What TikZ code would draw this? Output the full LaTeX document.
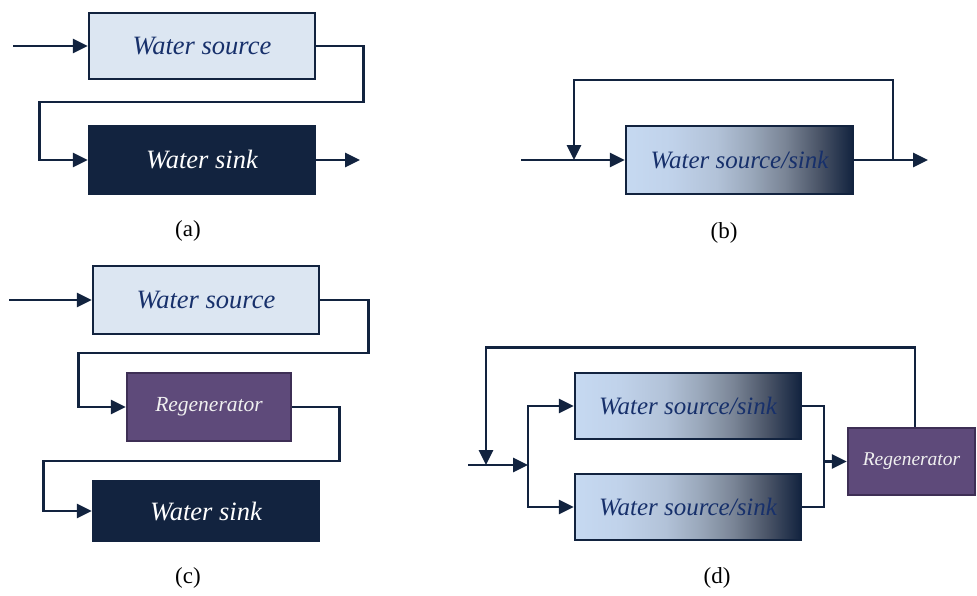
\documentclass[tikz,border=0pt]{standalone}
\usepackage{fontspec}
\setmainfont{Liberation Serif}
\usetikzlibrary{arrows.meta}

\definecolor{navy}{HTML}{12233F}
\definecolor{paleblue}{HTML}{DCE6F2}
\definecolor{textblue}{HTML}{17306B}
\definecolor{regfill}{HTML}{5E4A7A}
\definecolor{regedge}{HTML}{3E2F55}
\definecolor{gradA}{HTML}{C6D9F1}
\definecolor{gradB}{HTML}{C0D2EA}
\definecolor{gradC}{HTML}{B2C2D8}
\definecolor{gradD}{HTML}{9AA8BB}
\definecolor{gradE}{HTML}{7A8596}
\definecolor{gradF}{HTML}{4A5467}

% TikZ fits the central 25bp--75bp band of a shading onto the path
\pgfdeclarehorizontalshading{srcsink}{100bp}{%
  color(0bp)=(gradA); color(25bp)=(gradA); color(35bp)=(gradB);
  color(45bp)=(gradC); color(52.5bp)=(gradD); color(60bp)=(gradE);
  color(67.5bp)=(gradF); color(75bp)=(navy); color(100bp)=(navy)}

\tikzset{
  box/.style={rectangle, draw=navy, line width=2.5pt, inner sep=0pt,
    anchor=center, font=\fontsize{26.5}{30}\selectfont\itshape},
  srcbox/.style={box, fill=paleblue, text=textblue},
  sinkbox/.style={box, fill=navy, text=white},
  mixbox/.style={box, shading=srcsink, text=textblue,
    font=\fontsize{25}{29}\selectfont\itshape},
  regbox/.style={box, draw=regedge, fill=regfill, text=white!94!black},
  flow/.style={draw=navy, line width=2.8pt},
  arr/.style={flow, -{Triangle[length=15pt,width=14pt]}},
  caption/.style={font=\fontsize{23}{27}\selectfont, text=black}
}

\begin{document}
\begin{tikzpicture}[x=1pt,y=-1pt]
\useasboundingbox (0,0) rectangle (977,595);

% ---------- (a) source feeding a sink ----------
\node[srcbox, minimum width=226pt, minimum height=66pt] (asrc) at (202,46) {Water source};
\node[sinkbox, minimum width=226pt, minimum height=67pt] (asink) at (202,160) {Water sink};
\coordinate (ain) at (13,46);
\coordinate (aout) at (360,160);
\draw[arr] (ain) -- (asrc.west);
\draw[arr] (asrc.east) -- ++(47,0) -- ++(0,56) -| ([xshift=-48pt]asink.west) -- (asink.west);
\draw[arr] (asink.east) -- (aout);
\node[caption] (acap) at (188,231) {(a)};

% ---------- (b) single unit with recycle ----------
\node[mixbox, minimum width=227pt, minimum height=68pt] (bunit) at (739.5,160) {Water source/sink};
\coordinate (bin) at (521,160);
\coordinate (bout) at (928,160);
\coordinate (bret) at (893,160);
\coordinate (bjoin) at (574,160);
\draw[arr] (bin) -- (bunit.west);
\draw[arr] (bunit.east) -- (bout);
\draw[arr] (bret) -- ++(0,-80) -| (bjoin);
\node[caption] (bcap) at (724,233) {(b)};

% ---------- (c) source, regenerator, sink ----------
\node[srcbox, minimum width=226pt, minimum height=68pt] (csrc) at (206,300) {Water source};
\node[regbox, minimum width=164pt, minimum height=68pt,
      font=\fontsize{21.5}{25}\selectfont\itshape] (creg) at (209,407) {Regenerator};
\node[sinkbox, minimum width=226pt, minimum height=60pt] (csink) at (206,511) {Water sink};
\coordinate (cin) at (9,300);
\draw[arr] (cin) -- (csrc.west);
\draw[arr] (csrc.east) -- ++(48,0) -- ++(0,53) -| ([xshift=-47pt]creg.west) -- (creg.west);
\draw[arr] (creg.east) -- ++(47,0) -- ++(0,54) -| ([xshift=-48pt]csink.west) -- (csink.west);
\node[caption] (ccap) at (188,578) {(c)};

% ---------- (d) parallel units with regeneration recycle ----------
\node[mixbox, minimum width=226pt, minimum height=66pt] (dtop) at (688,406) {Water source/sink};
\node[mixbox, minimum width=226pt, minimum height=66pt] (dbot) at (688,507) {Water source/sink};
\node[regbox, minimum width=127pt, minimum height=67pt,
      font=\fontsize{19.5}{23}\selectfont\itshape] (dreg) at (911.5,461.5) {Regenerator};
\coordinate (din) at (468,465);
\coordinate (dsplit) at (528,465);
\coordinate (dmerge) at (824,461.5);
\coordinate (djoin) at (486,465);
\draw[arr] (din) -- (dsplit);
\draw[arr] (dsplit) |- (dtop.west);
\draw[arr] (dsplit) |- (dbot.west);
\draw[flow] (dtop.east) -| (dmerge);
\draw[flow] (dbot.east) -| (dmerge);
\draw[arr] (dmerge) -- (dreg.west);
\draw[arr] ([xshift=3.5pt]dreg.north) -- ++(0,-79) -| (djoin);
\node[caption] (dcap) at (717,578) {(d)};
\end{tikzpicture}
\end{document}
